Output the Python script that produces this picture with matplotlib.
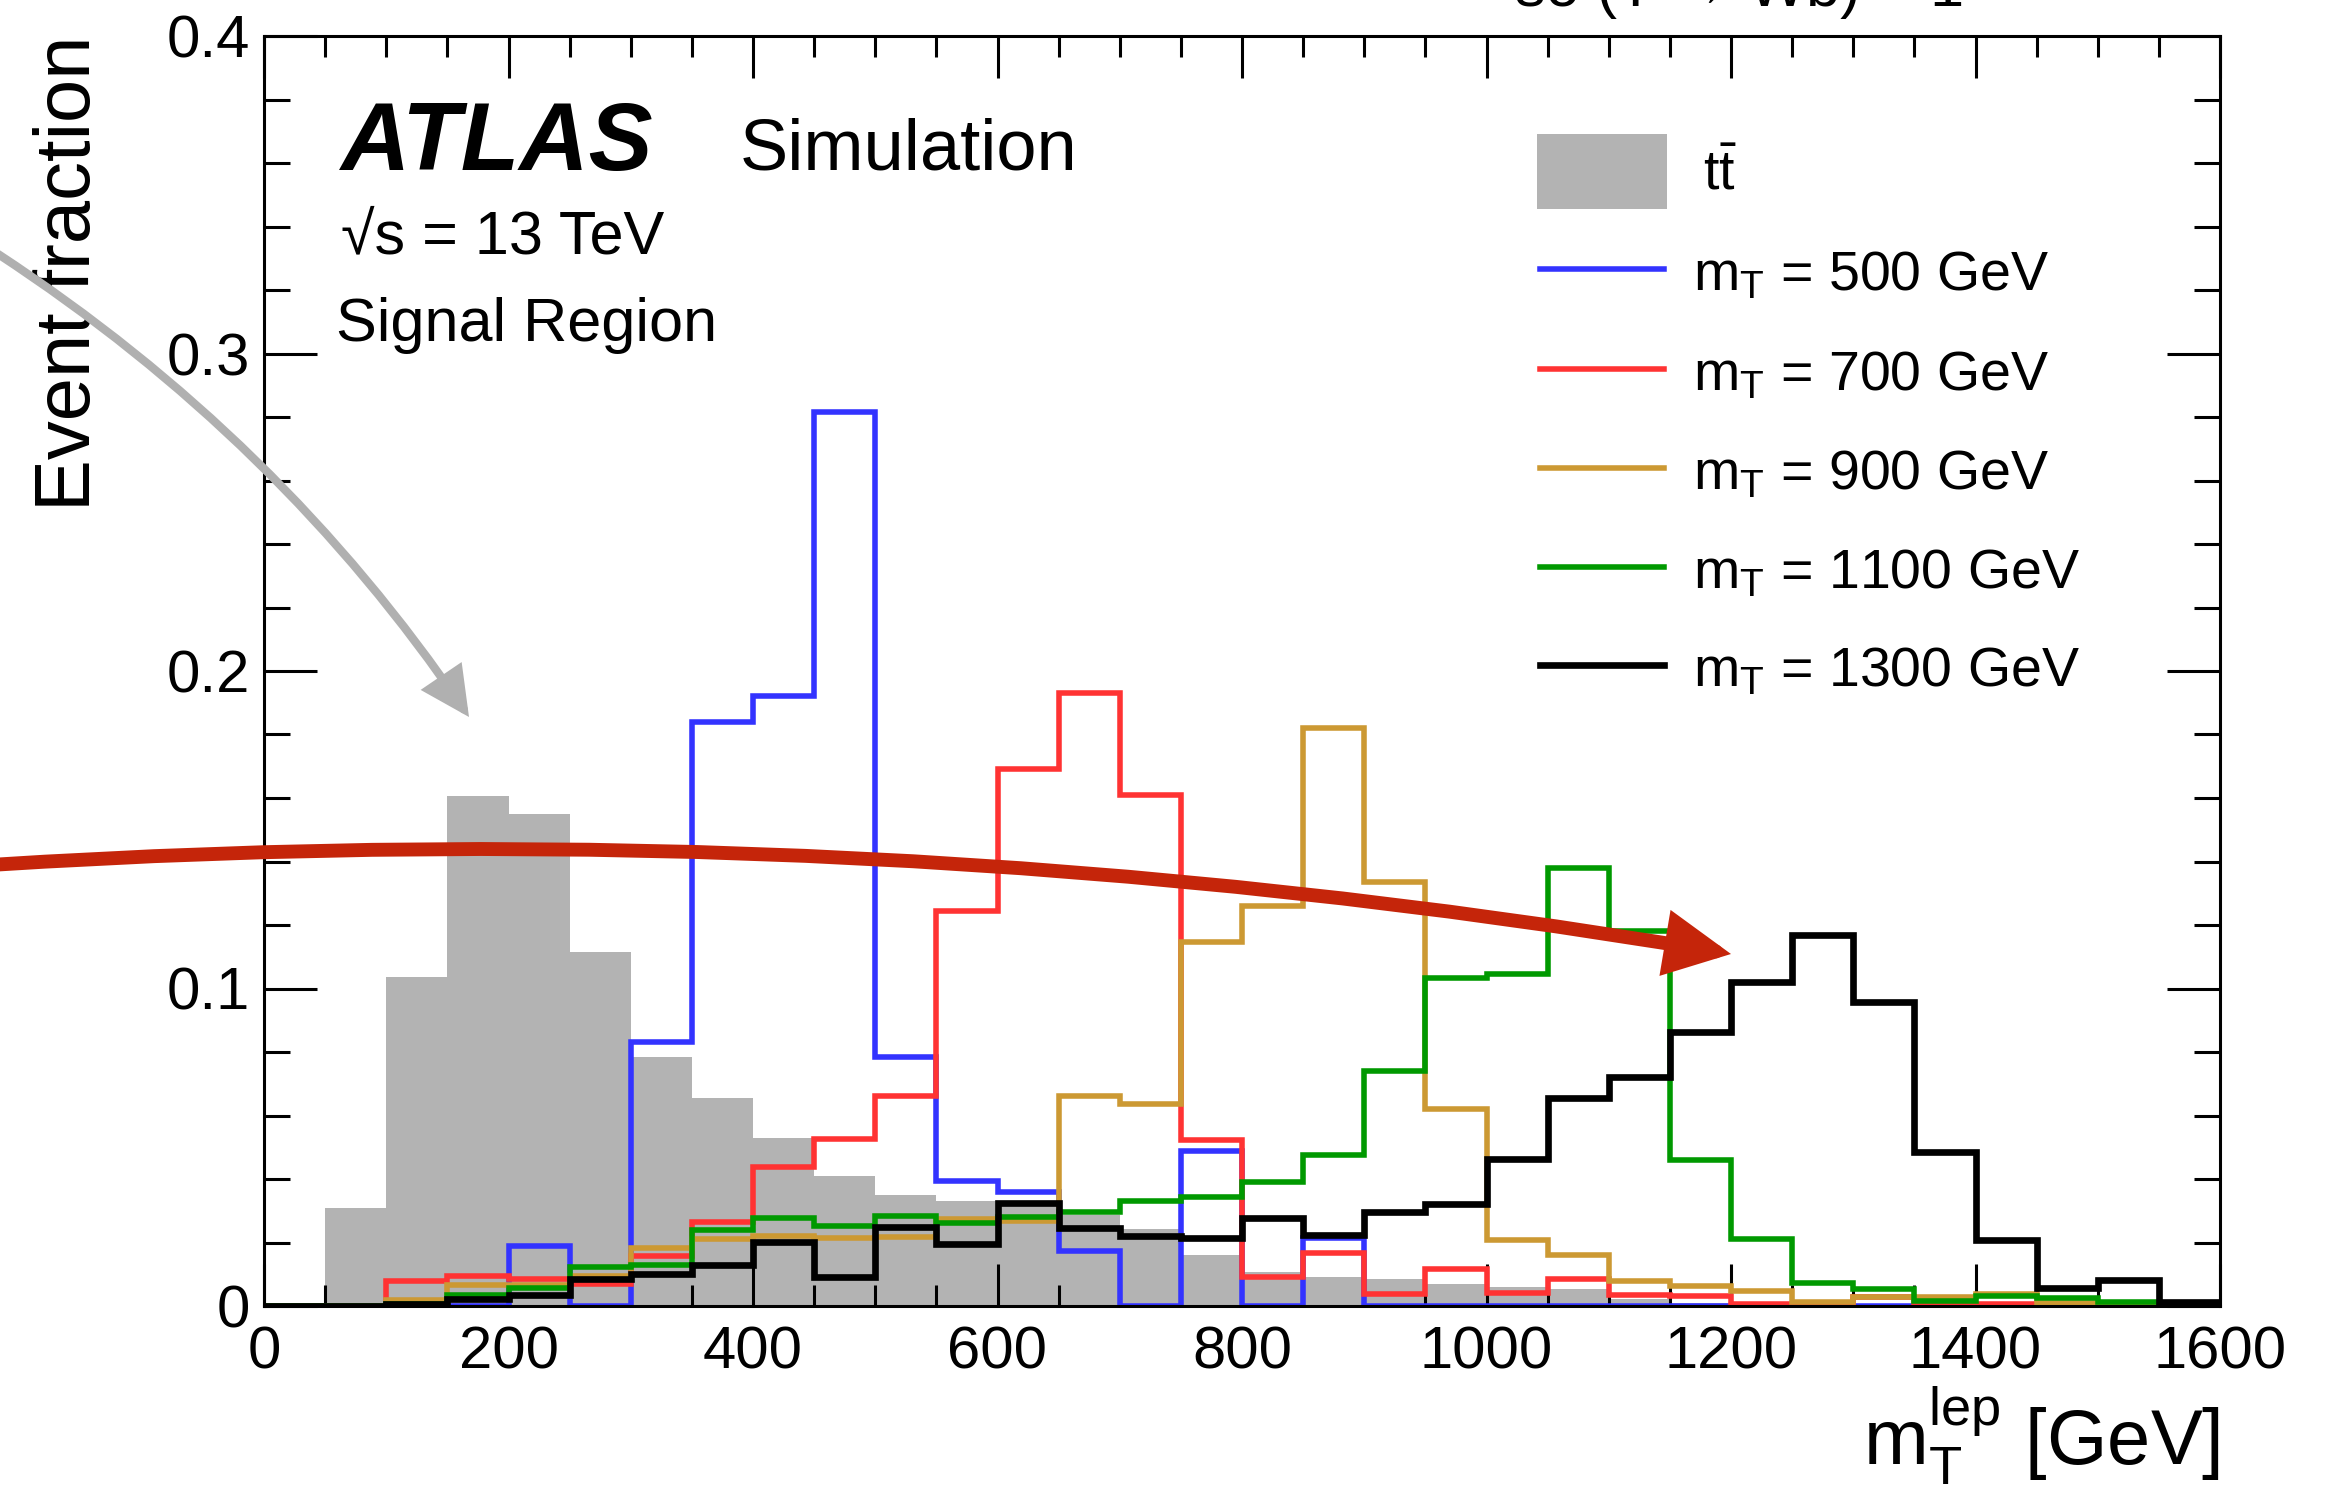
import numpy as np
import matplotlib
matplotlib.use("Agg")
import matplotlib.pyplot as plt
from matplotlib.ticker import MultipleLocator, FixedLocator, FixedFormatter
from matplotlib.patches import FancyArrowPatch, Rectangle, ArrowStyle
from matplotlib.lines import Line2D

plt.rcParams['font.family'] = ['Liberation Sans', 'DejaVu Sans']
plt.rcParams['mathtext.fontset'] = 'custom'
plt.rcParams['mathtext.rm'] = 'Liberation Sans'
plt.rcParams['mathtext.it'] = 'Liberation Sans:italic'
plt.rcParams['mathtext.bf'] = 'Liberation Sans:bold'

# ---------------- data ----------------
bin_edges = np.arange(0, 1601, 50)

ttbar = [0.0, 0.031, 0.1035, 0.1605, 0.155, 0.1115, 0.0785, 0.0654, 0.0528, 0.041,
         0.035, 0.033, 0.032, 0.0287, 0.0242, 0.016, 0.0107, 0.009, 0.0084, 0.007,
         0.0059, 0.0054, 0.0021, 0.001, 0.0005, 0.0003, 0.0002, 0.0001, 0.0001, 0.0, 0.0, 0.0]

mt500 = [0.0, 0.0, 0.0, 0.0, 0.019, 0.0, 0.0832, 0.184, 0.192, 0.2816,
         0.0783, 0.0395, 0.0358, 0.0173, 0.0, 0.0489, 0.0, 0.0215, 0.0, 0.0,
         0.0, 0.0, 0.0, 0.0, 0.0, 0.0, 0.0, 0.0, 0.0, 0.0, 0.0, 0.0]

mt700 = [0.0, 0.0, 0.0079, 0.0093, 0.0084, 0.007, 0.0159, 0.0264, 0.0437, 0.0526,
         0.0662, 0.1245, 0.169, 0.193, 0.161, 0.0524, 0.0091, 0.0166, 0.0039, 0.0117,
         0.0042, 0.0085, 0.0034, 0.0031, 0.0007, 0.0005, 0.0028, 0.0005, 0.0005, 0.0003, 0.0, 0.0]

mt900 = [0.0, 0.0, 0.002, 0.0065, 0.0067, 0.0094, 0.0182, 0.0212, 0.022, 0.0215,
         0.0217, 0.0275, 0.0268, 0.066, 0.0636, 0.1146, 0.126, 0.182, 0.1335, 0.062,
         0.0209, 0.0162, 0.0079, 0.0062, 0.0046, 0.0013, 0.0028, 0.0028, 0.0039, 0.001, 0.0004, 0.0]

mt1100 = [0.0, 0.0, 0.0005, 0.0034, 0.0057, 0.0123, 0.013, 0.0238, 0.0276, 0.0253,
          0.0285, 0.026, 0.028, 0.0297, 0.0332, 0.0342, 0.039, 0.0475, 0.074, 0.1033,
          0.1047, 0.138, 0.118, 0.046, 0.0212, 0.0072, 0.0052, 0.0015, 0.003, 0.0025, 0.0013, 0.0003]

mt1300 = [0.0, 0.0, 0.0007, 0.0021, 0.0034, 0.0084, 0.0102, 0.013, 0.0201, 0.0091,
          0.0248, 0.0196, 0.0324, 0.0246, 0.0222, 0.0215, 0.0276, 0.0224, 0.0295, 0.032,
          0.0463, 0.0656, 0.072, 0.0863, 0.102, 0.117, 0.0958, 0.0484, 0.0209, 0.0057, 0.0081, 0.0013]

signal_series = [mt500, mt700, mt900, mt1100, mt1300]
signal_labels = [r"m$_{\mathrm{T}}$ = 500 GeV", r"m$_{\mathrm{T}}$ = 700 GeV",
                 r"m$_{\mathrm{T}}$ = 900 GeV", r"m$_{\mathrm{T}}$ = 1100 GeV",
                 r"m$_{\mathrm{T}}$ = 1300 GeV"]
signal_colors = ['#3333ff', '#ff3333', '#cc9933', '#009900', '#000000']
signal_lw = [2.0, 2.0, 2.0, 2.0, 2.4]
ttbar_label = r"$\mathrm{t\bar{t}}$"
ttbar_color = '#b3b3b3'

x_ticks = [0, 200, 400, 600, 800, 1000, 1200, 1400, 1600]
x_ticklabels = ['0', '200', '400', '600', '800', '1000', '1200', '1400', '1600']
y_ticks = [0.0, 0.1, 0.2, 0.3, 0.4]
y_ticklabels = ['0', '0.1', '0.2', '0.3', '0.4']

# ---------------- figure ----------------
W, H = 2346, 1490
DPI = 200
fig = plt.figure(figsize=(W / DPI, H / DPI), dpi=DPI)

def fx(px):
    return px / W

def fy(py):
    return 1 - py / H

ax_l, ax_r, ax_t, ax_b = 264, 2220, 36, 1306
ax = fig.add_axes([fx(ax_l), fy(ax_b), fx(ax_r - ax_l), (ax_b - ax_t) / H])

ax.stairs(ttbar, bin_edges, fill=True, color=ttbar_color, zorder=1, linewidth=0)
for vals, col, lw, z in zip(signal_series, signal_colors, signal_lw, range(2, 7)):
    ax.stairs(vals, bin_edges, color=col, linewidth=lw, baseline=0, zorder=z)

ax.set_xlim(0, 1600)
ax.set_ylim(0, 0.4)

ax.xaxis.set_major_locator(FixedLocator(x_ticks))
ax.xaxis.set_major_formatter(FixedFormatter(x_ticklabels))
ax.yaxis.set_major_locator(FixedLocator(y_ticks))
ax.yaxis.set_major_formatter(FixedFormatter(y_ticklabels))
ax.xaxis.set_minor_locator(MultipleLocator(50))
ax.yaxis.set_minor_locator(MultipleLocator(0.02))

ax.tick_params(which='both', direction='in', top=True, right=True, width=1.1,
               labelsize=21.5, color='black')
ax.tick_params(axis='x', which='major', length=15, pad=7)
ax.tick_params(axis='x', which='minor', length=7.6)
ax.tick_params(axis='y', which='major', length=19, pad=5)
ax.tick_params(axis='y', which='minor', length=9.5)
for sp in ax.spines.values():
    sp.set_linewidth(1.1)
    sp.set_zorder(10)

ax.set_ylabel("Event fraction", fontsize=28, loc='top')
ax.yaxis.set_label_coords(-0.0808, 1.0)
ax.set_xlabel(r"$\mathrm{m}_{\mathrm{T}}^{\mathrm{lep}}$ [GeV]", fontsize=28, loc='right')
ax.xaxis.set_label_coords(1.0, -0.062)

# ---------------- text ----------------
fig.text(fx(341), fy(170), "ATLAS", fontsize=34.5, fontweight='bold', fontstyle='italic',
         va='baseline', ha='left')
fig.text(fx(740), fy(170), "Simulation", fontsize=26, va='baseline', ha='left')
fig.text(fx(341), fy(253), "\u221As = 13 TeV", fontsize=22, va='baseline', ha='left')
fig.text(fx(336), fy(341), "Signal Region", fontsize=22, va='baseline', ha='left')
fig.text(fx(1515), fy(6), "so (T \u2192 Wb) = 1", fontsize=22, va='baseline', ha='left')

# ---------------- legend (manual) ----------------
fig.add_artist(Rectangle((fx(1537), fy(209)), fx(1667 - 1537), (209 - 134) / H,
                         transform=fig.transFigure, facecolor=ttbar_color, edgecolor='none'))
fig.text(fx(1703), fy(190), ttbar_label, fontsize=20, va='baseline', ha='left')
leg_y = [269, 369, 468, 567, 665]
for yy, lab, col, lw in zip(leg_y, signal_labels, signal_colors, signal_lw):
    fig.add_artist(Line2D([fx(1540), fx(1664)], [fy(yy), fy(yy)], color=col, linewidth=lw,
                          transform=fig.transFigure))
    fig.text(fx(1693), fy(yy + 21), lab, fontsize=20, va='baseline', ha='left')

# ---------------- arrows ----------------
red_arrow = FancyArrowPatch((fx(-10), fy(865)), (fx(1731), fy(954)),
                            transform=fig.transFigure,
                            connectionstyle="arc3,rad=-0.058",
                            arrowstyle=ArrowStyle('-|>', head_length=16, head_width=8),
                            color='#c5250a', linewidth=5, shrinkA=0, shrinkB=0,
                            zorder=20, joinstyle='miter')
fig.add_artist(red_arrow)

gray_arrow = FancyArrowPatch((fx(-2), fy(254)), (fx(469), fy(717)),
                             transform=fig.transFigure,
                             connectionstyle="arc3,rad=-0.1",
                             arrowstyle=ArrowStyle('-|>', head_length=13, head_width=6.5),
                             color='#b0b0b0', linewidth=3, shrinkA=0, shrinkB=0,
                             zorder=20, joinstyle='miter')
fig.add_artist(gray_arrow)

fig.savefig("out.png", dpi=DPI)
